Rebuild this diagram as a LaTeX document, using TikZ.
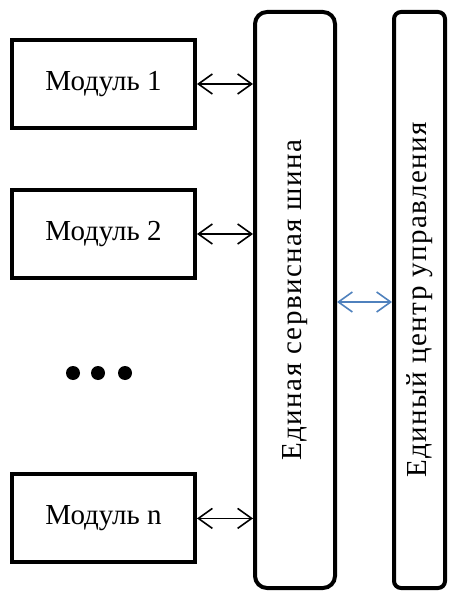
\documentclass[tikz,border=0pt]{standalone}
\usepackage{fontspec}
\setmainfont{Liberation Serif}
\usepackage{xcolor}
\usetikzlibrary{arrows.meta,positioning}
\definecolor{linkblue}{RGB}{79,129,189}

\begin{document}
\begin{tikzpicture}[
      font=\fontsize{14.5pt}{16pt}\selectfont,
      x=1pt, y=1pt,
      module/.style={draw, line width=2pt, minimum width=91.5pt,
                     minimum height=44pt, inner sep=1pt},
      bar/.style={draw, line width=2pt, minimum height=288pt,
                  inner sep=0pt},
      vtext/.style={rotate=90, font=\fontsize{14.5pt}{16pt}\selectfont
                    \addfontfeature{LetterSpace=5}},
      dot/.style={circle, fill, minimum width=6.5pt, minimum height=7pt,
                  inner sep=0pt},
      arr/.style={{Straight Barb[length=7pt,width=10pt]}-{Straight Barb[length=7pt,width=10pt]},
                  line width=0.8pt}
    ]
    \useasboundingbox (0,0) rectangle (224.5,-296);

    \node[module] (m1) at (51.75,-42) {Модуль 1};
    \node[module, below=29pt of m1] (m2) {Модуль 2};
    \foreach \i/\x in {1/36.5, 2/49, 3/62.5}
      \node[dot] (dot\i) at (\x,-186.5) {};
    \node[module, below=46pt of dot2.south -| m2] (mn) {Модуль n};

    \node[bar, rounded corners=6pt, minimum width=40pt] (bus)
      at (147.5,-150) {};
    \node[vtext] (bustext) at (bus.center) {Единая сервисная шина};
    \node[bar, rounded corners=3.5pt, minimum width=25.5pt] (ctr)
      at (209.75,-150) {};
    \node[vtext] (ctrtext) at (ctr.center) {Единый центр управления};

    \foreach \m in {m1, m2, mn}
      \draw[arr] (\m.east) -- (\m.east -| bus.west);

    % bus <-> control centre
    \draw[arr, linkblue] (bus.east |- 0,-151) -- (ctr.west |- 0,-151);
  \end{tikzpicture}
\end{document}
